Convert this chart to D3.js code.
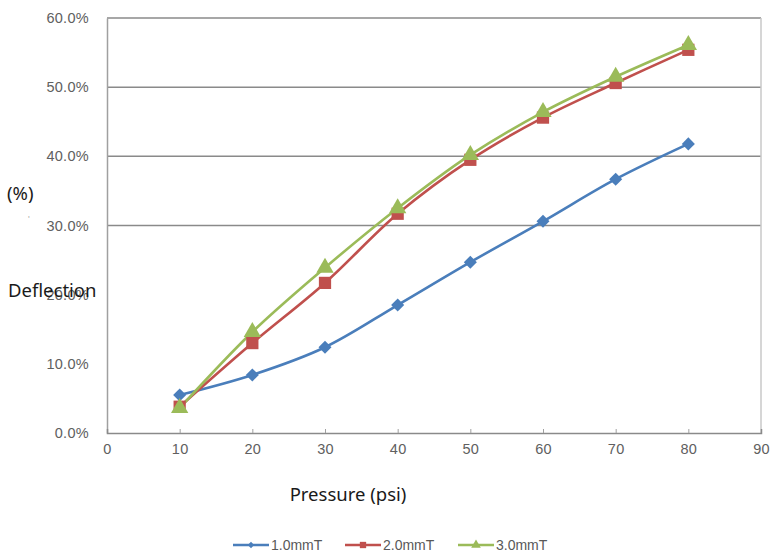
<!DOCTYPE html>
<html>
<head>
<meta charset="utf-8">
<script src="https://cdn.jsdelivr.net/npm/d3@7"></script>
<style>
  body { margin: 0; background: #fff; }
  svg { display: block; }
  .tick text { font-family: Arial, "Liberation Sans", sans-serif; font-size: 14.5px; fill: #606060; letter-spacing: 0.3px; }
  .title { font-family: "Noto Sans", sans-serif; font-size: 18.5px; fill: #1a1a1a; }
</style>
</head>
<body>
<div id="chart"></div>
<script>
// pressure (psi)
var pressure = [10, 20, 30, 40, 50, 60, 70, 80];
// deflection (%) per field strength
var defl1 = [5.5, 8.4, 12.4, 18.5, 24.7, 30.6, 36.7, 41.8];
var defl2 = [3.8, 13.0, 21.7, 31.7, 39.5, 45.6, 50.6, 55.4];
var defl3 = [3.6, 14.6, 23.9, 32.5, 40.2, 46.4, 51.5, 56.1];
var seriesNames = ["1.0mmT", "2.0mmT", "3.0mmT"];
var xTicks = [0, 10, 20, 30, 40, 50, 60, 70, 80, 90];
var yTicks = [0, 10, 20, 30, 40, 50, 60];
var gridTicks = [30, 40, 50, 60];

var W = 772, H = 556;
var margin = { top: 18, left: 107, right: 11, bottom: 123 },
    width = W - margin.left - margin.right,
    height = H - margin.top - margin.bottom;

var colors = ["#4a7ebb", "#c0504d", "#9bbb59"];
// diamond = square rotated 45deg
var symbols = [d3.symbolSquare, d3.symbolSquare, d3.symbolTriangle];
var rot = [45, 0, 0];
var symSize = [85, 150, 130];

var svg = d3.select("#chart").append("svg")
  .attr("width", W).attr("height", H);

var g = svg.append("g")
  .attr("transform", "translate(" + margin.left + "," + margin.top + ")");

var x = d3.scaleLinear().domain([0, 90]).range([0, width]);
var y = d3.scaleLinear().domain([0, 60]).range([height, 0]);

// gridlines
g.selectAll(".grid")
  .data(gridTicks)
  .enter().append("line")
  .attr("class", "grid")
  .attr("x1", 0).attr("x2", width)
  .attr("y1", function(d) { return y(d); })
  .attr("y2", function(d) { return y(d); })
  .attr("stroke", "#8a8a8a").attr("stroke-width", 1.5);

// right border
g.append("line")
  .attr("x1", width).attr("x2", width)
  .attr("y1", 0).attr("y2", height)
  .attr("stroke", "#c8c8c8").attr("stroke-width", 1.5);

// y axis
var yAxis = g.append("g")
  .call(d3.axisLeft(y).tickValues(yTicks).tickSize(0).tickPadding(18)
    .tickFormat(function(d) { return d3.format(".1f")(d) + "%"; }));
yAxis.select(".domain").attr("stroke", "#a0a0a0").attr("stroke-width", 1.5);

// x axis
var xAxis = g.append("g")
  .attr("transform", "translate(0," + height + ")")
  .call(d3.axisBottom(x).tickValues(xTicks).tickSize(-4).tickPadding(11));
xAxis.select(".domain").attr("stroke", "#8a8a8a").attr("stroke-width", 1.5);
xAxis.selectAll(".tick line").attr("stroke", "#a0a0a0");
xAxis.selectAll(".tick").filter(function(d) { return d === 0 || d === 90; }).select("line").remove();

var allSeries = [defl1, defl2, defl3].map(function(vals, i) {
  return { name: seriesNames[i], values: vals.map(function(v, j) { return [pressure[j], v]; }) };
});

var line = d3.line()
  .x(function(d) { return x(d[0]); })
  .y(function(d) { return y(d[1]); })
  .curve(d3.curveCatmullRom.alpha(0.5));

allSeries.forEach(function(s, i) {
  g.append("path")
    .datum(s.values)
    .attr("fill", "none")
    .attr("stroke", colors[i])
    .attr("stroke-width", 2.6)
    .attr("d", line);
});

allSeries.forEach(function(s, i) {
  g.selectAll(".m" + i)
    .data(s.values)
    .enter().append("path")
    .attr("class", "m" + i)
    .attr("transform", function(d) {
      return "translate(" + x(d[0]) + "," + y(d[1]) + ") rotate(" + rot[i] + ")";
    })
    .attr("d", d3.symbol().type(symbols[i]).size(symSize[i]))
    .attr("fill", colors[i]);
});

// axis titles
svg.append("text").attr("class", "title")
  .attr("x", 348).attr("y", 501).attr("text-anchor", "middle")
  .text("Pressure (psi)");
svg.append("text").attr("class", "title")
  .attr("x", 8).attr("y", 297)
  .text("Deflection");
svg.append("text").attr("class", "title")
  .attr("x", 7).attr("y", 200)
  .text("(%)");
svg.append("text")
  .attr("x", 28).attr("y", 222)
  .style("font-family", "Arial").style("font-size", "9px").style("fill", "#aaa")
  .text("'");

// legend
var legend = svg.append("g").attr("transform", "translate(233,545)");
var legX = [0, 112, 225];
allSeries.forEach(function(s, i) {
  var lg = legend.append("g").attr("transform", "translate(" + legX[i] + ",0)");
  lg.append("line")
    .attr("x1", 0).attr("x2", 36).attr("y1", 0).attr("y2", 0)
    .attr("stroke", colors[i]).attr("stroke-width", 2.6);
  lg.append("path")
    .attr("transform", "translate(18,0) rotate(" + rot[i] + ")")
    .attr("d", d3.symbol().type(symbols[i]).size(i === 0 ? 20 : 40))
    .attr("fill", colors[i]);
  lg.append("text")
    .attr("x", 38).attr("y", 5)
    .style("font-family", "Arial, 'Liberation Sans', sans-serif")
    .style("font-size", "14px").style("fill", "#595959")
    .text(s.name);
});
</script>
</body>
</html>
